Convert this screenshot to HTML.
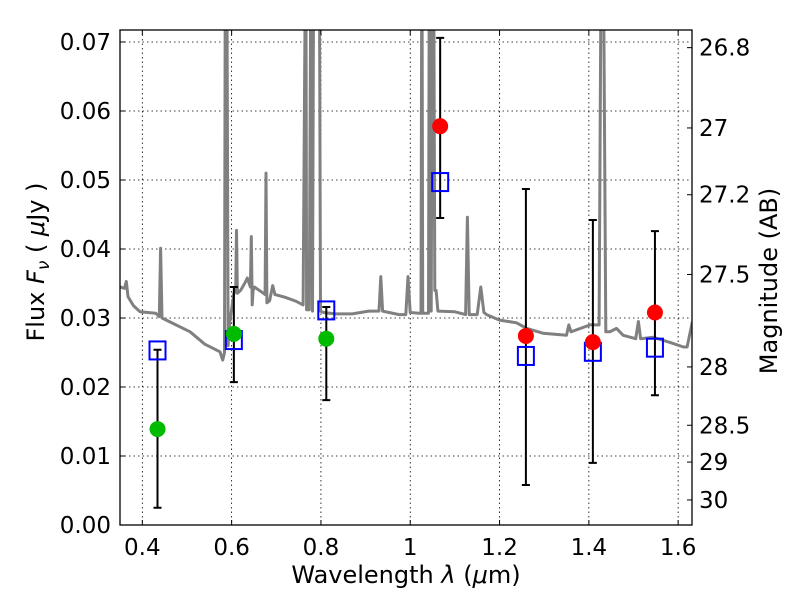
<!DOCTYPE html>
<html><head><meta charset="utf-8"><style>
body{margin:0;background:#fff}
svg text{font-family:"DejaVu Sans","Liberation Sans",sans-serif;fill:#000}
</style></head><body>
<svg id="chart" width="800" height="600" viewBox="0 0 800 600" xmlns="http://www.w3.org/2000/svg">
<defs><clipPath id="clip"><rect x="120" y="30" width="572" height="495"/></clipPath></defs>
<rect x="0" y="0" width="800" height="600" fill="#fff"/>
<g id="grid"></g>
<g id="spec" clip-path="url(#clip)"></g>
<g id="marks"></g>
<rect x="120" y="30" width="572" height="495" fill="none" stroke="#000" stroke-width="1.3"/>
<g id="axes"></g>
<text x="406" y="583" font-size="24" text-anchor="middle">Wavelength  <tspan font-style="italic">λ</tspan> (<tspan font-style="italic">μ</tspan>m)</text>
<text transform="translate(44,262) rotate(-90)" font-size="24" text-anchor="middle">Flux  <tspan font-style="italic">F</tspan><tspan font-style="italic" font-size="17" dy="5">ν</tspan><tspan dy="-5">  ( </tspan><tspan font-style="italic">μ</tspan>Jy )</text>
<text transform="translate(777,281) rotate(-90)" font-size="24" text-anchor="middle">Magnitude (AB)</text>
</svg>
<script>
const xTicks=[0.4,0.6,0.8,1.0,1.2,1.4,1.6];
const xTickLabels=["0.4","0.6","0.8","1","1.2","1.4","1.6"];
const yTicks=[0,0.01,0.02,0.03,0.04,0.05,0.06,0.07];
const yTickLabels=["0.00","0.01","0.02","0.03","0.04","0.05","0.06","0.07"];
const magTicks=[26.8,27,27.2,27.5,28,28.5,29,30];
const magTickLabels=["26.8","27","27.2","27.5","28","28.5","29","30"];
const obsWave=[0.434,0.605,0.812,1.067,1.259,1.409,1.548];
const obsFlux=[0.0139,0.0277,0.0270,0.0578,0.0274,0.0265,0.0308];
const obsColor=["#00bb00","#00bb00","#00bb00","#ff0000","#ff0000","#ff0000","#ff0000"];
const errHigh=[0.0254,0.0345,0.0316,0.0706,0.0487,0.0442,0.0426];
const errLow=[0.0025,0.0207,0.0181,0.0445,0.0058,0.0090,0.0188];
const modelFlux=[0.0253,0.0268,0.0311,0.0497,0.0245,0.0251,0.0257];
const specWave=[0.35,0.36,0.364,0.368,0.38,0.395,0.43,0.438,0.441,0.444,0.46,0.507,0.54,0.574,0.58,0.584,0.586,0.589,0.592,0.595,0.605,0.609,0.611,0.613,0.62,0.629,0.635,0.642,0.644,0.646,0.648,0.651,0.671,0.675,0.677,0.679,0.685,0.692,0.697,0.72,0.745,0.76,0.766,0.768,0.771,0.774,0.778,0.781,0.784,0.788,0.792,0.796,0.799,0.806,0.832,0.87,0.907,0.93,0.934,0.938,0.975,0.99,0.995,1.0,1.02,1.024,1.026,1.028,1.041,1.043,1.047,1.05,1.052,1.055,1.058,1.062,1.1,1.124,1.128,1.132,1.15,1.158,1.165,1.171,1.2,1.238,1.261,1.297,1.35,1.355,1.36,1.403,1.423,1.428,1.432,1.438,1.447,1.462,1.477,1.505,1.511,1.516,1.544,1.58,1.612,1.62,1.632];
const specFlux=[0.0345,0.0343,0.0353,0.0331,0.0318,0.0309,0.0307,0.0302,0.0401,0.0300,0.0295,0.0280,0.0262,0.0251,0.0239,0.0250,0.0900,0.0900,0.0260,0.0290,0.0336,0.0338,0.0427,0.0336,0.0340,0.0350,0.0358,0.0345,0.0418,0.0319,0.0340,0.0345,0.0336,0.0334,0.0510,0.0322,0.0325,0.0347,0.0334,0.0330,0.0324,0.0319,0.0900,0.0312,0.0312,0.0312,0.0900,0.0310,0.0900,0.0900,0.0900,0.0900,0.0310,0.0308,0.0306,0.0306,0.0310,0.0310,0.0360,0.0310,0.0305,0.0305,0.0360,0.0308,0.0307,0.0307,0.0900,0.0307,0.0307,0.0900,0.0310,0.0900,0.0900,0.0340,0.0340,0.0310,0.0309,0.0305,0.0446,0.0305,0.0305,0.0345,0.0308,0.0305,0.0297,0.0293,0.0285,0.0278,0.0275,0.0290,0.0280,0.0290,0.0290,0.0900,0.0900,0.0280,0.0280,0.0285,0.0275,0.0270,0.0295,0.0270,0.0272,0.0265,0.0258,0.0258,0.0295];

const NS="http://www.w3.org/2000/svg";
const X0=120,X1=692,Y0=525,Y1=30,XMIN=0.35,XMAX=1.631,YMIN=0,YMAX=0.07174;
function sx(v){return X0+(v-XMIN)/(XMAX-XMIN)*(X1-X0);}
function sy(v){return Y0-(v-YMIN)/(YMAX-YMIN)*(Y0-Y1);}
function magToFlux(m){return Math.pow(10,(23.9-m)/2.5);}
function mk(tag,attrs,parent){const e=document.createElementNS(NS,tag);for(const k in attrs)e.setAttribute(k,attrs[k]);parent.appendChild(e);return e;}
const grid=document.getElementById('grid'),axes=document.getElementById('axes'),spec=document.getElementById('spec'),marks=document.getElementById('marks');

xTicks.forEach((t,i)=>{
  const x=sx(t);
  const g=mk('line',{x1:x,x2:x,y1:Y1,y2:Y0,stroke:'#000','stroke-width':0.8,'stroke-dasharray':'1.5,3'},grid);
  
  
  const tk=mk('path',{d:`M${x},${Y0}v-5M${x},${Y1}v5`,stroke:'#000','stroke-width':1},axes);
  
  
  const tl=mk('text',{x:x,y:555,'font-size':23,'text-anchor':'middle'},axes);
  tl.textContent=xTickLabels[i];
  
  
});
yTicks.forEach((t,i)=>{
  const y=sy(t);
  const g=mk('line',{x1:X0,x2:X1,y1:y,y2:y,stroke:'#000','stroke-width':0.8,'stroke-dasharray':'1.5,3'},grid);
  
  
  const tk=mk('path',{d:`M${X0},${y}h5`,stroke:'#000','stroke-width':1},axes);
  
  
  const tl=mk('text',{x:111,y:y+8,'font-size':23,'text-anchor':'end'},axes);
  tl.textContent=yTickLabels[i];
  
  
});
magTicks.forEach((m,i)=>{
  const y=sy(magToFlux(m));
  const tk=mk('path',{d:`M${X1},${y}h-5`,stroke:'#000','stroke-width':1},axes);
  
  
  const tl=mk('text',{x:699,y:y+8,'font-size':23,'text-anchor':'start'},axes);
  tl.textContent=magTickLabels[i];
  
  
});

let d='';specWave.forEach((w,i)=>{d+=(i?'L':'M')+sx(w).toFixed(1)+','+sy(specFlux[i]).toFixed(1);});
const sp=mk('path',{d:d,fill:'none',stroke:'#808080','stroke-width':3,'stroke-linejoin':'round'},spec);



obsWave.forEach((w,i)=>{
  const x=sx(w);
  const eb=mk('path',{d:`M${x},${sy(errHigh[i])}V${sy(errLow[i])}M${x-4},${sy(errHigh[i])}h8M${x-4},${sy(errLow[i])}h8`,stroke:'#000','stroke-width':2},marks);
  
  
  const sq=mk('rect',{x:x-8,y:sy(modelFlux[i])-9,width:16,height:18,fill:'none',stroke:'#0000ff','stroke-width':2},marks);
  
  
});
obsWave.forEach((w,i)=>{
  const c=mk('circle',{cx:sx(w),cy:sy(obsFlux[i]),r:8,fill:obsColor[i]},marks);
  
  
});
</script>
</body></html>
